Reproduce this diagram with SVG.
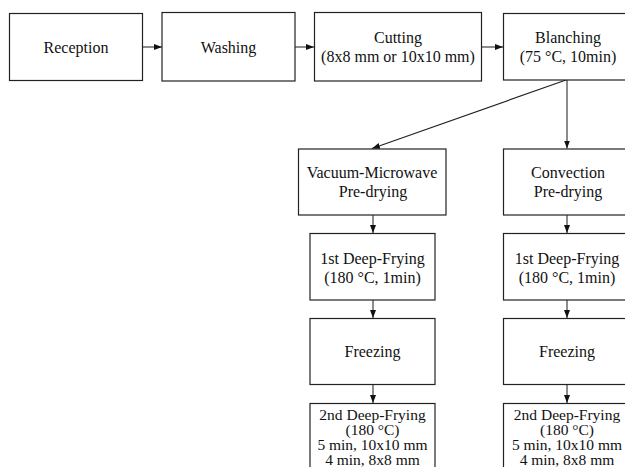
<svg xmlns="http://www.w3.org/2000/svg" width="625" height="467" viewBox="0 0 625 467">
<style>
.box{fill:#fff;stroke:#222;stroke-width:1.2}
text{font-family:'Liberation Serif','DejaVu Serif',serif;font-size:16px;fill:#111;text-anchor:middle}
.s{font-size:15.5px}
.c{stroke:#666;stroke-width:1.5;fill:none}
</style>
<defs>
<marker id="ah" markerWidth="8" markerHeight="6" refX="8" refY="3" orient="auto" markerUnits="userSpaceOnUse">
<path d="M0,0 L8,3 L0,6 Z" fill="#111"/>
</marker>
</defs>
<rect width="625" height="467" fill="#fff"/>
<g id="connectors">
<line class="c" x1="143" y1="47" x2="162" y2="47" marker-end="url(#ah)"/>
<line class="c" x1="295" y1="47" x2="314" y2="47" marker-end="url(#ah)"/>
<line class="c" x1="482" y1="47" x2="503" y2="47" marker-end="url(#ah)"/>
<line class="c" x1="567" y1="80" x2="567" y2="148.5" marker-end="url(#ah)"/>
<line x1="566" y1="80" x2="372" y2="148.5" stroke="#222" stroke-width="1.2" marker-end="url(#ah)"/>
<line class="c" x1="373" y1="215" x2="373" y2="233" marker-end="url(#ah)"/>
<line class="c" x1="567" y1="215" x2="567" y2="233" marker-end="url(#ah)"/>
<line class="c" x1="373" y1="300" x2="373" y2="318" marker-end="url(#ah)"/>
<line class="c" x1="567" y1="300" x2="567" y2="318" marker-end="url(#ah)"/>
<line class="c" x1="373" y1="384" x2="373" y2="403" marker-end="url(#ah)"/>
<line class="c" x1="567" y1="384" x2="567" y2="403" marker-end="url(#ah)"/>
</g>
<g id="reception">
<rect class="box" x="9.5" y="13.5" width="133" height="67"/>
<text x="76" y="52.5">Reception</text>
</g>
<g id="washing">
<rect class="box" x="162" y="12.5" width="133" height="68.5"/>
<text x="228.5" y="52.5">Washing</text>
</g>
<g id="cutting">
<rect class="box" x="314.5" y="12.5" width="167" height="68.5"/>
<text x="398" y="43">Cutting</text>
<text x="398" y="62">(8x8 mm or 10x10 mm)</text>
</g>
<g id="blanching">
<rect class="box" x="503.5" y="13.5" width="130" height="66.5"/>
<text x="568" y="43">Blanching</text>
<text x="568" y="62">(75 °C, 10min)</text>
</g>
<g id="vacuum">
<rect class="box" x="298.5" y="149" width="147.5" height="66"/>
<text x="372" y="178">Vacuum-Microwave</text>
<text x="373" y="196.5">Pre-drying</text>
</g>
<g id="convection">
<rect class="box" x="503.5" y="149" width="130" height="66"/>
<text x="568" y="178">Convection</text>
<text x="568" y="196.5">Pre-drying</text>
</g>
<g id="fry1-left">
<rect class="box" x="310" y="233.5" width="125" height="66.5"/>
<text x="372.5" y="264">1st Deep-Frying</text>
<text x="372.5" y="282.5">(180 °C, 1min)</text>
</g>
<g id="fry1-right">
<rect class="box" x="503.5" y="233.5" width="130" height="66.5"/>
<text x="567" y="264">1st Deep-Frying</text>
<text x="567" y="282.5">(180 °C, 1min)</text>
</g>
<g id="freeze-left">
<rect class="box" x="310" y="318.5" width="125" height="66"/>
<text x="372.5" y="357">Freezing</text>
</g>
<g id="freeze-right">
<rect class="box" x="503.5" y="318.5" width="130" height="66"/>
<text x="567" y="357">Freezing</text>
</g>
<g id="fry2-left">
<rect class="box" x="310" y="403.5" width="125" height="70"/>
<text class="s" x="372.5" y="419.5">2nd Deep-Frying</text>
<text class="s" x="372.5" y="434.5">(180 °C)</text>
<text class="s" x="372.5" y="449.5">5 min, 10x10 mm</text>
<text class="s" x="372.5" y="464.5">4 min, 8x8 mm</text>
</g>
<g id="fry2-right">
<rect class="box" x="503.5" y="403.5" width="130" height="70"/>
<text class="s" x="567" y="419.5">2nd Deep-Frying</text>
<text class="s" x="567" y="434.5">(180 °C)</text>
<text class="s" x="567" y="449.5">5 min, 10x10 mm</text>
<text class="s" x="567" y="464.5">4 min, 8x8 mm</text>
</g>
</svg>
